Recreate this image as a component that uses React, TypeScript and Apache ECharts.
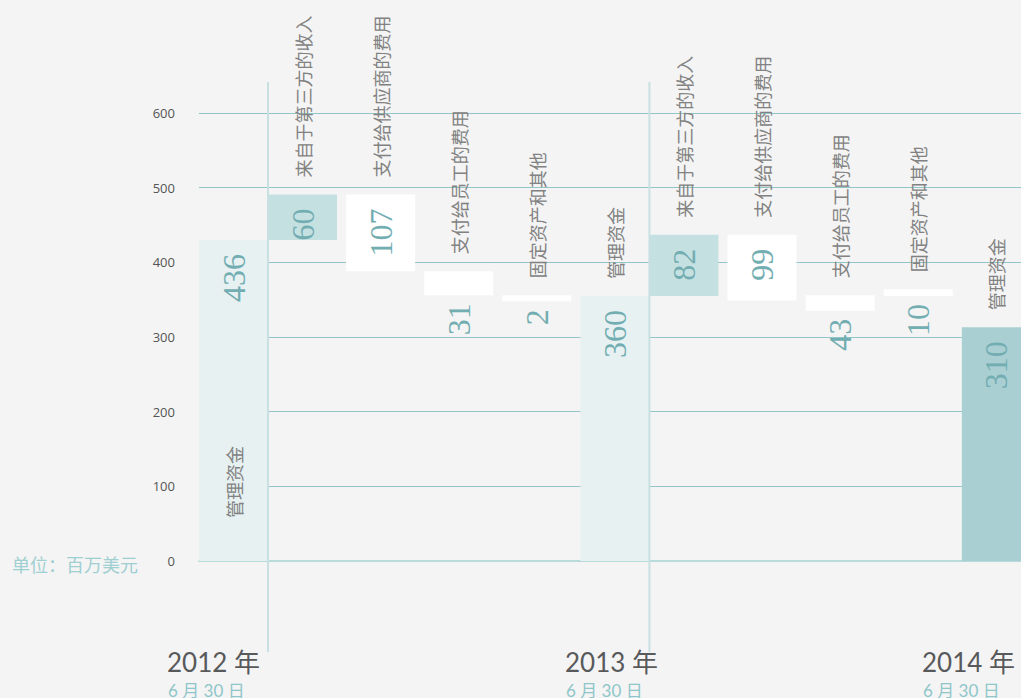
import React, { useEffect, useRef } from "react";
import * as echarts from "echarts";

// ---- data ----
const categories = [
  "管理资金",
  "来自于第三方的收入",
  "支付给供应商的费用",
  "支付给员工的费用",
  "固定资产和其他",
  "管理资金",
  "来自于第三方的收入",
  "支付给供应商的费用",
  "支付给员工的费用",
  "固定资产和其他",
  "管理资金",
];
const valueLabels = [436, 60, 107, 31, 2, 360, 82, 99, 43, 10, 310];
// bar extents as drawn in the picture (百万美元)
const barLow = [0, 430, 388, 356, 348, 0, 355, 349, 335, 355, 0];
const barHigh = [430, 491, 491, 388, 356, 355, 437, 437, 356, 364, 313];
const kinds = ["total", "up", "down", "down", "down", "total", "up", "down", "down", "down", "total"];
const yTicks = [0, 100, 200, 300, 400, 500, 600];
const years = ["2012 年", "2013 年", "2014 年"];
const dateLabel = "6 月 30 日";
const unitLabel = "单位：百万美元";

// ---- layout helpers ----
const GAP = 0.132; // gap between bars, in bar widths
function barStart(i: number): number {
  let pos = 0;
  for (let j = 0; j < i; j++) {
    pos += 1;
    if (kinds[j] !== "total") pos += GAP; // no gap after a total bar
  }
  return pos;
}

const seriesData = categories.map((c, i) => [barStart(i), barLow[i], barHigh[i], i]);

function fillFor(i: number): string {
  const k = kinds[i];
  if (k === "total") return i === categories.length - 1 ? "#a9cfd2" : "#e7f1f2";
  if (k === "up") return "#c5e0e1";
  return "#ffffff";
}

export default function App() {
  const ref = useRef<HTMLDivElement>(null);
  useEffect(() => {
    if (!ref.current) return;
    const chart = echarts.init(ref.current, undefined, { renderer: "svg" });
    const W = 1021;
    const gridLeft = 199;
    const unitW = 69;
    const xMax = (W - gridLeft) / unitW;
    const option: any = {
      animation: false,
      backgroundColor: "#f4f4f4",
      grid: { left: gridLeft, top: 113, height: 448, right: 0 },
      xAxis: {
        type: "value",
        min: 0,
        max: xMax,
        axisLine: { show: true, onZero: true, lineStyle: { color: "#b9dadb", width: 2 } },
        axisTick: { show: false },
        axisLabel: { show: false },
        splitLine: { show: false },
      },
      yAxis: {
        type: "value",
        min: yTicks[0],
        max: yTicks[yTicks.length - 1],
        interval: 100,
        axisLine: { show: false },
        axisTick: { show: false },
        axisLabel: { color: "#555555", fontSize: 13, fontFamily: "Open Sans, sans-serif", margin: 24 },
        splitLine: { lineStyle: { color: "#92c5c7", width: 1 } },
      },
      series: [
        {
          type: "custom",
          clip: false,
          encode: { x: 0, y: [1, 2] },
          data: seriesData,
          renderItem: (params: any, api: any) => {
            const x = api.value(0);
            const low = api.value(1);
            const high = api.value(2);
            const i = api.value(3);
            const p0 = api.coord([x, high]);
            const p1 = api.coord([x + 1, low]);
            const w = p1[0] - p0[0];
            const h = p1[1] - p0[1];
            const cx = p0[0] + w / 2;
            const cs = params.coordSys;
            const children: any[] = [
              { type: "rect", shape: { x: p0[0], y: p0[1], width: w, height: h }, style: { fill: fillFor(i) } },
            ];
            // value label
            const below = h < 40;
            children.push({
              type: "text",
              x: cx,
              y: below ? p1[1] + 8 : p0[1] + 14,
              rotation: Math.PI / 2,
              z2: 5,
              style: {
                text: String(valueLabels[i]),
                fill: "#72adb1",
                fontSize: 32,
                fontFamily: "Liberation Serif, serif",
                align: "right",
                verticalAlign: "middle",
              },
            });
            // category label
            const inside = i === 0;
            children.push({
              type: "text",
              x: cx,
              y: inside ? p1[1] - 43 : p0[1] - 17,
              rotation: Math.PI / 2,
              z2: 5,
              style: {
                text: categories[i],
                fill: "#828282",
                fontSize: 18,
                fontFamily: "Noto Sans CJK SC, sans-serif",
                align: "left",
                verticalAlign: "middle",
              },
            });
            // separator after a total that opens a period
            if (kinds[i] === "total" && i < categories.length - 1) {
              children.push({
                type: "line",
                z2: 10,
                shape: { x1: p1[0], y1: cs.y - 31, x2: p1[0], y2: cs.y + cs.height + 91 },
                style: { stroke: "#c8e0e1", lineWidth: 2 },
              });
            }
            return { type: "group", children };
          },
        },
      ],
      graphic: [
        {
          type: "text",
          left: 12,
          top: 555,
          style: { text: unitLabel, fill: "#9fcfd1", fontSize: 18, fontFamily: "Noto Sans CJK SC, sans-serif" },
        },
        ...[167, 565, 922].map((lx, k) => ({
          type: "group",
          children: [
            {
              type: "text",
              x: lx,
              y: 662,
              style: {
                text: years[k],
                fill: "#58595b",
                fontSize: 26,
                fontFamily: "Lato, Noto Sans CJK SC, sans-serif",
                align: "left",
                verticalAlign: "middle",
              },
            },
            {
              type: "text",
              x: lx + 1,
              y: 690,
              style: {
                text: dateLabel,
                fill: "#8fc6c9",
                fontSize: 17,
                fontFamily: "Lato, Noto Sans CJK SC, sans-serif",
                align: "left",
                verticalAlign: "middle",
              },
            },
          ],
        })),
      ],
    };
    chart.setOption(option);
    return () => chart.dispose();
  }, []);
  return <div ref={ref} style={{ position: "absolute", left: 0, top: 0, width: 1021, height: 698 }} />;
}
